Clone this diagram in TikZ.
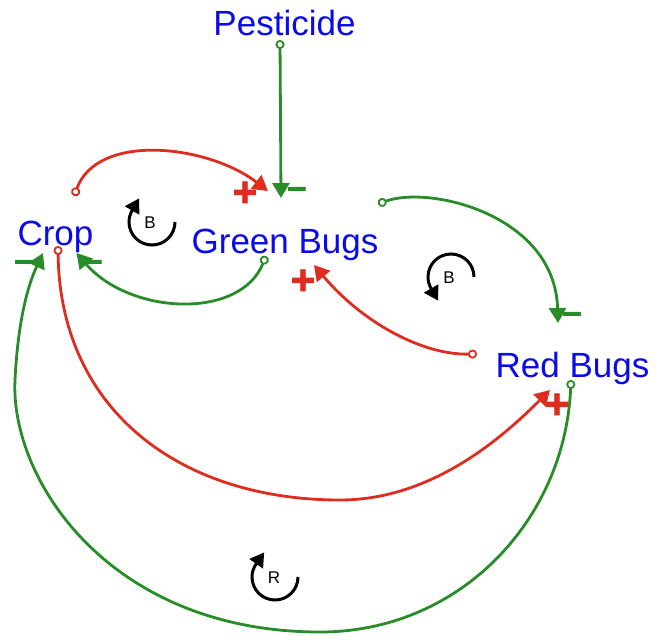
\documentclass[tikz,border=0pt]{standalone}
\usepackage{fontspec}
\setmainfont{Liberation Sans}
\newfontfamily\signfont[FakeBold=2]{Liberation Sans Bold}
\usetikzlibrary{arrows.meta}
\definecolor{varblue}{RGB}{10,10,235}
\definecolor{lgreen}{RGB}{40,140,40}
\definecolor{lred}{RGB}{222,45,30}

\begin{document}
\begin{tikzpicture}[x=0.5pt, y=-0.5pt, line width=1.4pt]
  \tikzstyle{var}=[anchor=base, inner sep=0pt, text=varblue, font=\fontsize{17.5}{20}\selectfont]
  \tikzstyle{link}=[{Circle[open,length=4.5pt,line width=0.9pt]}-{Triangle[length=7.5pt,width=8.5pt]}]
  \tikzstyle{lpos}=[link, draw=lred]
  \tikzstyle{lneg}=[link, draw=lgreen]
  \tikzstyle{psign}=[inner sep=0pt, text=lred, font=\signfont\fontsize{21}{21}\selectfont]
  \tikzstyle{nsign}=[anchor=base, inner sep=0pt, text=lgreen, font=\signfont\fontsize{17}{17}\selectfont]
  \tikzstyle{cyc}=[draw=black, line width=1.5pt, -{Triangle[length=7pt,width=8pt]}, shorten >=-7pt]
  \tikzstyle{cyclbl}=[inner sep=0pt, font=\fontsize{8.5}{9}\selectfont]

  \useasboundingbox (0,0) rectangle (658,642);

  \node[var] (pest)  at (284.5,36) {Pesticide};
  \node[var] (crop)  at (55.5,245) {Crop};
  \node[var] (green) at (285,253)  {Green Bugs};
  \node[var] (red)   at (572.5,377) {Red Bugs};

  % links
  \draw[lneg] ([shift={(-4.5,4)}]pest.base) -- ([shift={(-4,-55)}]green.base);
  \draw[lpos] ([shift={(18.5,-49)}]crop.base)
    .. controls (98,132) and (208,145) .. ([shift={(-17,-62)}]green.base);
  \draw[lneg] ([shift={(-19,3)}]green.base)
    .. controls (240,320) and (130,315) .. ([shift={(21,8)}]crop.base);
  \draw[lneg] ([shift={(93,-49)}]green.base)
    .. controls (430,185) and (555,215) .. ([shift={(-14.5,-54)}]red.base);
  \draw[lpos] ([shift={(-95.5,-23)}]red.base)
    .. controls (420,355) and (360,320) .. ([shift={(29,12)}]green.base);
  \draw[lpos] ([shift={(2.5,1)}]crop.base)
    .. controls (60,410) and (180,500) .. (340,500)
    .. controls (430,500) and (500,440) .. ([shift={(-22.5,13)}]red.base);
  \draw[lneg] ([shift={(-1.5,3)}]red.base)
    .. controls (565,520) and (460,632) .. (320,632)
    .. controls (110,632) and (10,480) .. (15,380)
    .. controls (18,320) and (28,285) .. ([shift={(-12.5,8)}]crop.base);

  % polarities (minus placed on its base line)
  \node[nsign] (sA) at (297,198) {–};
  \node[psign] (sB) at (245,194) {+};
  \node[nsign] (sC) at (93,271)  {–};
  \node[nsign] (sD) at (572,323) {–};
  \node[psign] (sE) at (303,282) {+};
  \node[psign] (sF) at (557,406) {+};
  \node[nsign] (sG) at (24,271)  {–};

  % loops
  \draw[cyc] (175,222) arc[start angle=0, end angle=-210, radius=11.5pt];
  \node[cyclbl] (b1) at (150,223) {B};
  \draw[cyc] (474,277) arc[start angle=0, end angle=210, radius=11.5pt];
  \node[cyclbl] (b2) at (449,278) {B};
  \draw[cyc] (298,577) arc[start angle=0, end angle=-215, radius=11.5pt];
  \node[cyclbl] (r1) at (274,578) {R};
\end{tikzpicture}
\end{document}
